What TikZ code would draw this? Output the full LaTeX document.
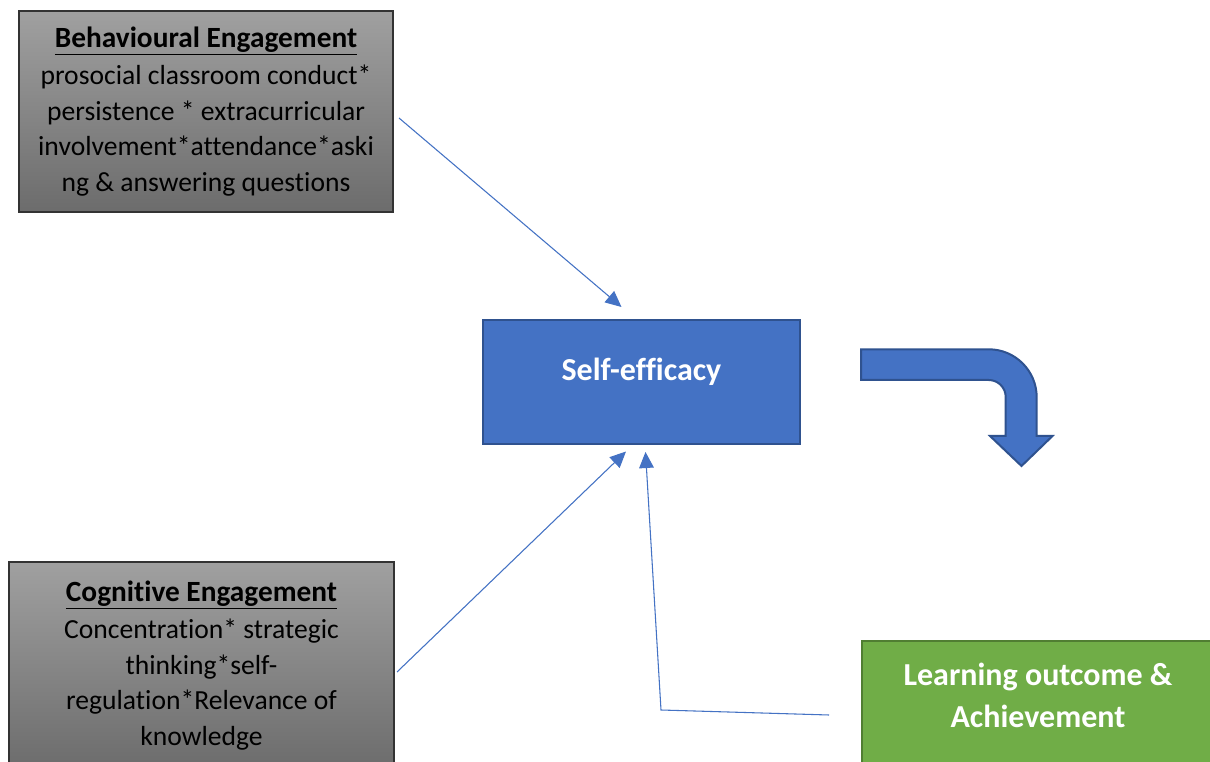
\documentclass[tikz,border=0pt]{standalone}
\usepackage{fontspec}
\setmainfont{Carlito}[Ligatures={NoCommon}]
\usetikzlibrary{arrows.meta}

\definecolor{seblue}{HTML}{4472C4}
\definecolor{seborder}{HTML}{2F528F}
\definecolor{logreen}{HTML}{70AD47}
\definecolor{loborder}{HTML}{507E32}
\definecolor{greytop}{HTML}{A0A0A0}
\definecolor{greybot}{HTML}{6C6C6C}

\tikzset{
  engbox/.style={draw=black!80, line width=1.1pt, top color=greytop, bottom color=greybot,
    align=center, inner sep=0pt, font=\fontsize{20.7}{26.6}\selectfont, text=black},
  sebox/.style={draw=seborder, line width=1.5pt, fill=seblue, inner sep=0pt},
  setext/.style={text=white, font=\fontsize{24}{30}\selectfont\bfseries, inner sep=0pt},
  lobox/.style={draw=loborder, line width=1.5pt, fill=logreen, inner sep=0pt},
  lotext/.style={text=white, align=center, font=\fontsize{24}{31.5}\selectfont\bfseries, inner sep=0pt},
  conn/.style={draw=seblue, line width=0.8pt, -{Triangle[length=12pt,width=11pt]}},
  bentarrow/.style={draw=seborder, line width=1.5pt, fill=seblue, line join=miter},
}
\newcommand{\engtitle}[1]{{\fontsize{22}{26.6}\selectfont\bfseries\underline{#1}}}

\begin{document}
\begin{tikzpicture}[x=0.75pt,y=-0.75pt]
  \useasboundingbox (0,0) rectangle (1210,762);
  \fill[white] (0,0) rectangle (1210,762);
  \clip (0,0) rectangle (1210,762);

  % engagement boxes
  \node[engbox, minimum width=280.5pt, minimum height=150.75pt] (beh) at (206,111.5)
    {\engtitle{Behavioural Engagement}\\[1.5pt]
     prosocial classroom conduct*\\
     persistence * extracurricular\\
     involvement*attendance*aski\\
     ng \& answering questions};

  \node[engbox, minimum width=288.75pt, minimum height=155.25pt] (cog) at (201.5,665.5)
    {\engtitle{Cognitive Engagement}\\[1.5pt]
     Concentration* strategic\\
     thinking*self-\\
     regulation*Relevance of\\
     knowledge};

  % central construct
  \node[sebox, minimum width=237.75pt, minimum height=93pt] (se) at (641.5,382) {};
  \node[setext] (setxt) at (641.5,372) {Self-efficacy};

  % outcome box
  \node[lobox, minimum width=264pt, minimum height=111.75pt] (lo) at (1038,715.5) {};
  \node[lotext] (lotxt) at (1038,695) {Learning outcome \&\\Achievement};

  % bent block arrow
  \draw[bentarrow] (861,349.3) -- (988.7,349.3)
    .. controls (1015.2,349.3) and (1036.7,370.8) .. (1036.7,397.3)
    -- (1036.7,436) -- (1052.5,436) -- (1021.5,466) -- (990,436) -- (1005.7,436)
    -- (1005.7,397)
    .. controls (1005.7,387.6) and (998.1,380) .. (988.7,380)
    -- (861,380) -- cycle;

  % connectors
  \coordinate (b1) at (399,118);
  \coordinate (b2) at (621.5,307);
  \coordinate (c1) at (397,672);
  \coordinate (c2) at (626,451.5);
  \coordinate (l1) at (829,715);
  \coordinate (l2) at (661,710);
  \coordinate (l3) at (645.5,452);
  \draw[conn] (b1) -- (b2);
  \draw[conn] (c1) -- (c2);
  \draw[conn] (l1) -- (l2) -- (l3);
\end{tikzpicture}
\end{document}
